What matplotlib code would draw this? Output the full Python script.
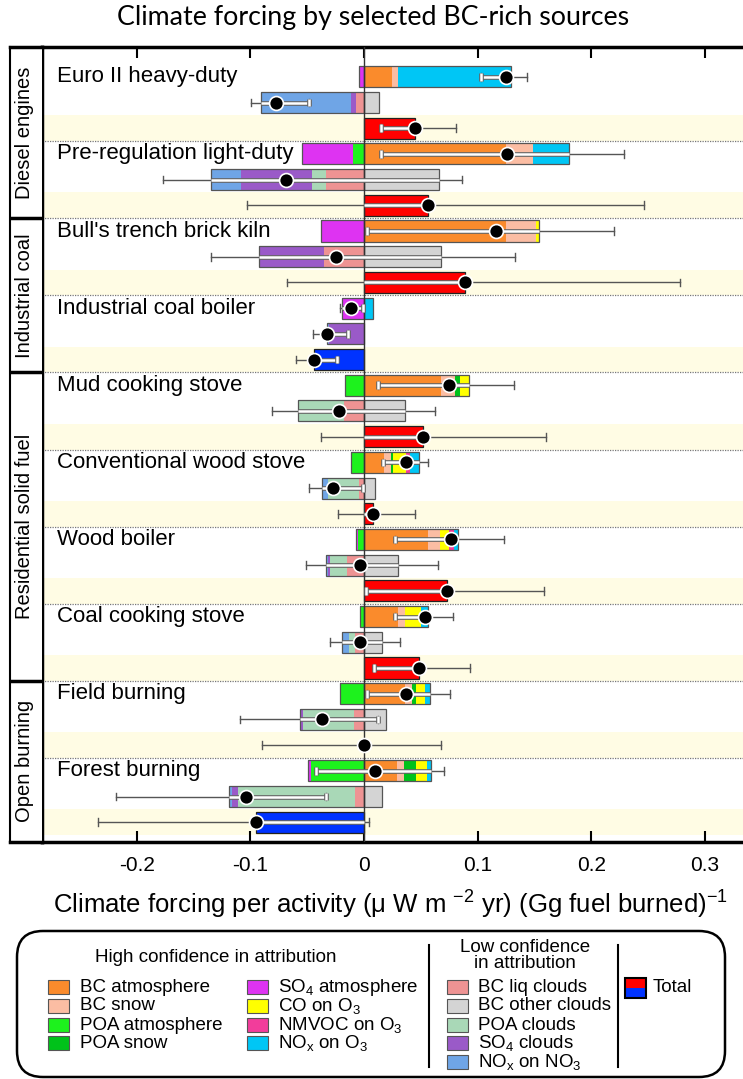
import matplotlib.pyplot as plt
import matplotlib.patheffects as pe
import matplotlib.transforms as mtransforms
from matplotlib.patches import Rectangle, FancyBboxPatch

plt.rcParams['font.family'] = ['Liberation Sans', 'DejaVu Sans']
plt.rcParams['mathtext.default'] = 'regular'

# sources, top to bottom
sources = ['Euro II heavy-duty', 'Pre-regulation light-duty', "Bull's trench brick kiln",
           'Industrial coal boiler', 'Mud cooking stove', 'Conventional wood stove',
           'Wood boiler', 'Coal cooking stove', 'Field burning', 'Forest burning']
groups = ['Diesel engines', 'Industrial coal', 'Residential solid fuel', 'Open burning']
group_sizes = [2, 2, 4, 2]

# high confidence components (positive side, stacked from zero outwards)
bc_atm = [0.025, 0.125, 0.125, 0.0, 0.0675, 0.0175, 0.056, 0.030, 0.036, 0.029]
bc_snow = [0.005, 0.024, 0.026, 0.0, 0.0125, 0.006, 0.011, 0.006, 0.006, 0.006]
poa_snow = [0.0, 0.0, 0.0, 0.0, 0.004, 0.002, 0.0, 0.0, 0.004, 0.0105]
co_o3 = [0.0, 0.0, 0.003, 0.0, 0.008, 0.0115, 0.008, 0.0145, 0.008, 0.0095]
nmvoc_o3 = [0.0, 0.0, 0.0, 0.0, 0.0, 0.0035, 0.004, 0.0, 0.0, 0.0]
nox_o3 = [0.099, 0.031, 0.0, 0.0075, 0.0, 0.008, 0.004, 0.006, 0.004, 0.004]
# high confidence components (negative side)
poa_atm = [0.0, -0.0096, 0.0, 0.0, -0.017, -0.0117, -0.0055, -0.0033, -0.020, -0.047]
so4_atm = [-0.004, -0.0446, -0.038, -0.019, 0.0, 0.0, -0.0012, 0.0, -0.001, -0.002]

# low confidence components
bc_other = [0.013, 0.066, 0.0675, 0.0, 0.036, 0.010, 0.030, 0.016, 0.0196, 0.0154]
bc_liq = [-0.0067, -0.033, -0.035, 0.0, -0.018, -0.004, -0.015, -0.0075, -0.009, -0.0075]
poa_clouds = [0.0, -0.0125, 0.0, 0.0, -0.039, -0.028, -0.0146, -0.006, -0.0446, -0.103]
so4_clouds = [-0.005, -0.063, -0.057, -0.0304, 0.0, 0.0, -0.002, 0.0, -0.0017, -0.0054]
nox_no3 = [-0.079, -0.026, 0.0, -0.002, -0.001, -0.005, -0.0017, -0.006, -0.0013, -0.003]

# totals
total = [0.045, 0.056, 0.089, -0.044, 0.052, 0.008, 0.073, 0.048, 0.0, -0.095]

# uncertainty ranges (low, high)
err_high = [(0.103, 0.143), (0.015, 0.229), (0.003, 0.220), (-0.021, -0.001), (0.0125, 0.132),
            (0.017, 0.056), (0.027, 0.123), (0.027, 0.078), (0.003, 0.076), (-0.042, 0.070)]
err_low = [(-0.099, -0.048), (-0.177, 0.086), (-0.135, 0.1325), (-0.045, -0.014), (-0.081, 0.0625),
           (-0.048, -0.001), (-0.051, 0.065), (-0.030, 0.032), (-0.109, 0.0125), (-0.218, -0.033)]
err_total = [(0.015, 0.081), (-0.103, 0.246), (-0.068, 0.278), (-0.060, -0.024), (-0.0375, 0.160),
             (-0.023, 0.045), (0.002, 0.158), (0.009, 0.093), (-0.090, 0.068), (-0.234, 0.0046)]

high_comps = [
    ('BC atmosphere', bc_atm, '#fa8b2c'),
    ('BC snow', bc_snow, '#fbbda3'),
    ('POA snow', poa_snow, '#00c21a'),
    ('CO on O$_3$', co_o3, '#ffff00'),
    ('NMVOC on O$_3$', nmvoc_o3, '#f23d9b'),
    ('NO$_x$ on O$_3$', nox_o3, '#00c6f5'),
    ('POA atmosphere', poa_atm, '#1df21d'),
    ('SO$_4$ atmosphere', so4_atm, '#de33f2'),
]
low_comps = [
    ('BC other clouds', bc_other, '#d4d4d4'),
    ('BC liq clouds', bc_liq, '#ee9393'),
    ('POA clouds', poa_clouds, '#a9d8b7'),
    ('SO$_4$ clouds', so4_clouds, '#9a5ac8'),
    ('NO$_x$ on NO$_3$', nox_no3, '#6fa5e6'),
]

W, H = 743, 1079
fig = plt.figure(figsize=(W / 100, H / 100), dpi=100)
ax = fig.add_axes([42 / W, 1 - 842 / H, 1 - 42 / W, 795 / H])
ylim = (29.77, -1.16)
bh = 0.82


def stack(y, comps, i):
    pos, neg = 0.0, 0.0
    for name, vals, col in comps:
        v = vals[i]
        if v > 0:
            ax.barh(y, v, left=pos, height=bh, color=col, edgecolor='none', zorder=2)
            pos += v
        elif v < 0:
            ax.barh(y, v, left=neg, height=bh, color=col, edgecolor='none', zorder=2)
            neg += v
    if pos > 0:
        ax.barh(y, pos, height=bh, fill=False, edgecolor='#555555', lw=0.9, zorder=3)
    if neg < 0:
        ax.barh(y, neg, height=bh, fill=False, edgecolor='#555555', lw=0.9, zorder=3)
    return neg, pos, pos + neg


def errbar(y, x, lo, hi, b_lo, b_hi):
    ch = 0.15
    ax.plot([lo, hi], [y, y], color='#555555', lw=1, zorder=5)
    for e in (lo, hi):
        ax.plot([e, e], [y - ch, y + ch], color='#555555', lw=1, zorder=5)
    a, b = max(lo, b_lo), min(hi, b_hi)
    stroke = [pe.Stroke(linewidth=3.4, foreground='#666666'), pe.Normal()]
    if b > a:
        ax.plot([a, b], [y, y], color='white', lw=1.8, zorder=6, solid_capstyle='butt',
                path_effects=stroke)
    for e in (lo, hi):
        if b_lo < e < b_hi:
            ax.plot([e, e], [y - ch, y + ch], color='white', lw=1.8, zorder=6,
                    solid_capstyle='butt', path_effects=stroke)
    ax.plot(x, y, 'o', ms=10, mfc='black', mec='white', mew=1.2, zorder=7)


# background bands and separators
for i in range(len(sources)):
    ax.axhspan(3 * i + 1.5, 3 * i + 2.5, color='#fffce4', lw=0, zorder=0)
    if i > 0:
        ax.axhline(3 * i - 0.5, color='#777777', lw=0.9, ls=(0, (1, 1)), zorder=1)

lab_tr = mtransforms.blended_transform_factory(ax.transAxes, ax.transData)
for i, name in enumerate(sources):
    y0 = 3 * i
    n, p, s = stack(y0, high_comps, i)
    errbar(y0, s, err_high[i][0], err_high[i][1], n, p)
    n, p, s = stack(y0 + 1, low_comps, i)
    errbar(y0 + 1, s, err_low[i][0], err_low[i][1], n, p)
    t = total[i]
    if t != 0:
        ax.barh(y0 + 2, t, height=bh, color='#ff0000' if t > 0 else '#0033ff',
                edgecolor='#222222', lw=0.9, zorder=3)
    errbar(y0 + 2, t, err_total[i][0], err_total[i][1], min(t, 0), max(t, 0))
    ax.text(0.021, y0, name, transform=lab_tr, fontsize=16, va='center', ha='left', zorder=8)

ax.axvline(0, color='#333333', lw=1, zorder=4)
ax.set_xlim(-0.2832, 0.3333)
ax.set_ylim(*ylim)
ax.set_yticks([])
ax.set_xticks([-0.2, -0.1, 0, 0.1, 0.2, 0.3])
ax.set_xticklabels(['-0.2', '-0.1', '0', '0.1', '0.2', '0.3'])
ax.tick_params(axis='x', direction='in', top=True, length=8, width=1.5, labelsize=15, pad=10)
for s in ['top', 'bottom', 'left']:
    ax.spines[s].set_linewidth(2.5)
ax.spines['right'].set_visible(False)

# group column
gax = fig.add_axes([10 / W, 1 - 842 / H, 32 / W, 795 / H])
gax.set_ylim(*ylim)
gax.set_xlim(0, 1)
gax.set_xticks([])
gax.set_yticks([])
gax.spines['right'].set_visible(False)
gax.spines['left'].set_linewidth(1.5)
gax.spines['top'].set_linewidth(2.5)
gax.spines['bottom'].set_linewidth(2.5)
start = ylim[1]
blk = 0
for g, n in zip(groups, group_sizes):
    blk += n
    end = 3 * blk - 0.5 if blk < len(sources) else ylim[0]
    if blk < len(sources):
        gax.axhline(end, color='black', lw=2.5)
    gax.text(0.45, (start + end) / 2, g, rotation=90, ha='center', va='center', fontsize=14.5)
    start = end

# title and axis label
fig.text(373 / W, 1 - 18 / H, 'Climate forcing by selected BC-rich sources', family='Lato',
         fontsize=19.3, ha='center', va='center')
fig.text(390 / W, 1 - 905 / H,
         r'Climate forcing per activity ($\mu$ W m $^{-2}$ yr) (Gg fuel burned)$^{-1}$',
         fontsize=18.5, ha='center', va='center')

# legend panel
lax = fig.add_axes([0, 0, 1, 1])
lax.set_xlim(0, W)
lax.set_ylim(H, 0)
lax.axis('off')
lax.add_patch(FancyBboxPatch((17, 931), 708, 146, boxstyle='round,pad=0,rounding_size=26',
                             fc='white', ec='black', lw=1.8))
lax.text(216, 958, 'High confidence in attribution', fontsize=13.5, ha='center', va='center')
lax.text(525, 948, 'Low confidence', fontsize=13.5, ha='center', va='center')
lax.text(525, 964, 'in attribution', fontsize=13.5, ha='center', va='center')
lax.plot([429, 429], [945, 1067], color='black', lw=1.5)
lax.plot([618, 618], [945, 1067], color='black', lw=1.5)

order1 = ['BC atmosphere', 'BC snow', 'POA atmosphere', 'POA snow']
order2 = ['SO$_4$ atmosphere', 'CO on O$_3$', 'NMVOC on O$_3$', 'NO$_x$ on O$_3$']
order3 = ['BC liq clouds', 'BC other clouds', 'POA clouds', 'SO$_4$ clouds', 'NO$_x$ on NO$_3$']
cmap = {name: col for name, vals, col in high_comps + low_comps}
rows_y = [987, 1006, 1025, 1043, 1062]
for xs, xt, names in [(48, 80, order1), (247, 278, order2), (447, 478, order3)]:
    for k, name in enumerate(names):
        y = rows_y[k]
        lax.add_patch(Rectangle((xs, y - 7), 21, 14, fc=cmap[name], ec='#555555', lw=0.8))
        lax.text(xt, y, name, fontsize=13.5, ha='left', va='center')
lax.add_patch(Rectangle((625, 978), 21, 10, fc='#ff0000', ec='none'))
lax.add_patch(Rectangle((625, 988), 21, 10, fc='#0033ff', ec='none'))
lax.add_patch(Rectangle((625, 978), 21, 20, fill=False, ec='black', lw=1.5))
lax.text(653, 988, 'Total', fontsize=13.5, ha='left', va='center')

fig.savefig('out.png', dpi=100)
